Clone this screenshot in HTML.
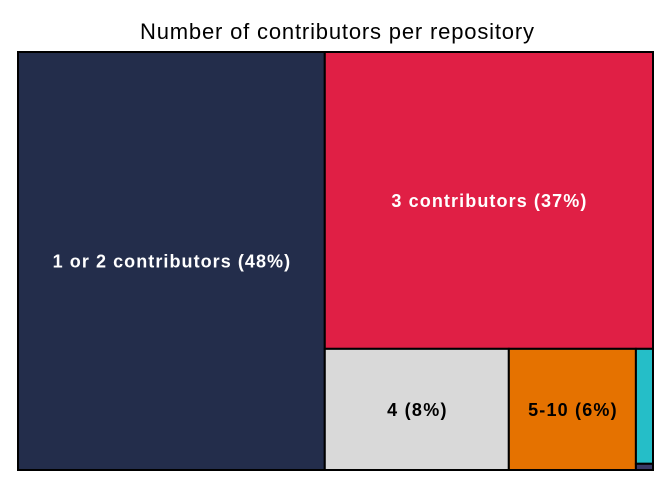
<!DOCTYPE html>
<html><head><meta charset="utf-8"><style>
body{margin:0;background:#fff;width:672px;height:480px;overflow:hidden}
svg{font-family:"Liberation Sans",sans-serif}
</style></head><body>
<svg id="c" width="672" height="480">
<text x="337" y="39" text-anchor="middle" font-size="22" fill="#000" textLength="394" lengthAdjust="spacing">Number of contributors per repository</text>
</svg>
<script>
const categories = ["1 or 2 contributors", "3 contributors", "4", "5-10", "11-20", "21+"];
const values = [48.3, 36.7, 8.4, 5.8, 0.74, 0.04];
const labels = ["48%", "37%", "8%", "6%", "1%", "0%"];
const colors = ["#232d4b", "#e01f45", "#d9d9d9", "#e57200", "#25bec8", "#3a3a66"];
const textColors = ["#fff", "#fff", "#000", "#000", "#000", "#000"];
const svg = document.getElementById('c');
const X0 = 18, Y0 = 52, X1 = 653, Y1 = 470;
const total = values.reduce((a, b) => a + b, 0);
const rects = [];
let w0 = (X1 - X0) * values[0] / total;
rects.push([X0, Y0, w0, Y1 - Y0]);
let rx = X0 + w0, rw = X1 - rx, rest = total - values[0];
let h1 = (Y1 - Y0) * values[1] / rest;
rects.push([rx, Y0, rw, h1]);
let by = Y0 + h1, bh = Y1 - by;
let rest2 = rest - values[1];
let cx = rx;
for (let i = 2; i < 4; i++) {
  const w = rw * values[i] / rest2;
  rects.push([cx, by, w, bh]); cx += w;
}
const lw = X1 - cx, lv = values[4] + values[5];
let cy = by;
for (let i = 4; i < 6; i++) {
  const h = bh * values[i] / lv;
  rects.push([cx, cy, lw, h]); cy += h;
}
const NS = 'http://www.w3.org/2000/svg';
rects.forEach((r, i) => {
  const el = document.createElementNS(NS, 'rect');
  el.setAttribute('x', r[0]); el.setAttribute('y', r[1]);
  el.setAttribute('width', r[2]); el.setAttribute('height', r[3]);
  el.setAttribute('fill', colors[i]); el.setAttribute('stroke', '#000'); el.setAttribute('stroke-width', '2');
  
  
  svg.appendChild(el);
  if (i < 4) {
    const t = document.createElementNS(NS, 'text');
    t.setAttribute('x', r[0] + r[2] / 2); t.setAttribute('y', r[1] + r[3] / 2 + 6.5);
    t.setAttribute('text-anchor', 'middle'); t.setAttribute('font-size', '18');
    t.setAttribute('font-weight', 'bold'); t.setAttribute('fill', textColors[i]);
    t.textContent = categories[i] + ' (' + labels[i] + ')';
    
    
    svg.appendChild(t);
    const n = t.getComputedTextLength();
    t.setAttribute('textLength', n * 1.12);
    t.setAttribute('lengthAdjust', 'spacing');
  }
});
</script>
</body></html>
